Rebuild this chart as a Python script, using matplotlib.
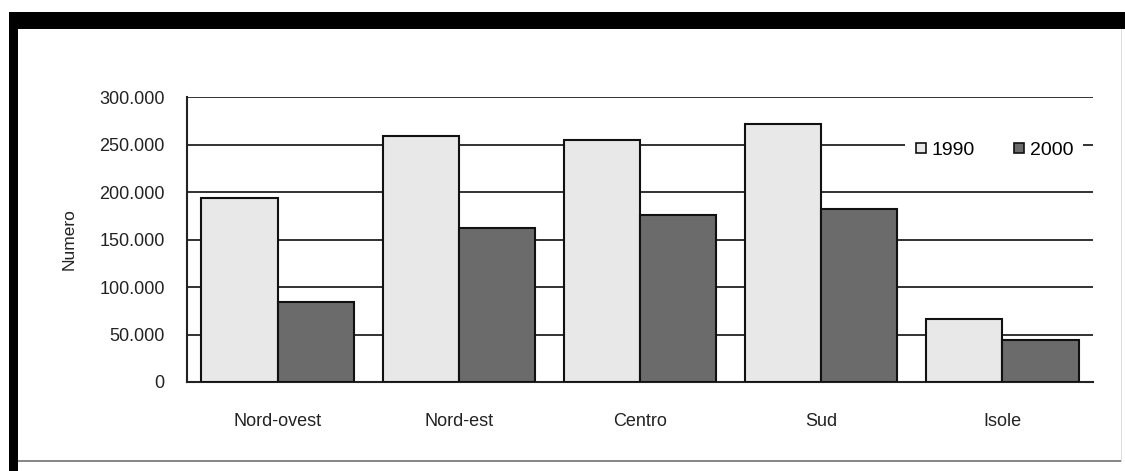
import matplotlib
matplotlib.use("Agg")
import matplotlib.pyplot as plt
import numpy as np
from matplotlib.lines import Line2D
from matplotlib.patches import Rectangle

categories = ["Nord-ovest", "Nord-est", "Centro", "Sud", "Isole"]
series_names = ["1990", "2000"]
values_1990 = [194000, 259000, 255000, 272000, 66000]
values_2000 = [84000, 162000, 176000, 182000, 44000]
ytick_values = [0, 50000, 100000, 150000, 200000, 250000, 300000]
ytick_labels = ["0", "50.000", "100.000", "150.000", "200.000", "250.000", "300.000"]
ylabel = "Numero"

FONT = ["Liberation Sans", "DejaVu Sans"]
plt.rcParams["font.family"] = FONT

W, H = 1125, 471
fig = plt.figure(figsize=(W / 100, H / 100), dpi=100)
fig.patch.set_facecolor("white")

# frame decorations (figure pixel coords)
def px_rect(x0, y0, x1, y1, **kw):
    fig.patches.append(Rectangle((x0 / W, 1 - y1 / H), (x1 - x0) / W, (y1 - y0) / H,
                                 transform=fig.transFigure, **kw))

px_rect(9, 12, 1125, 29, facecolor="black", edgecolor="none")
px_rect(9, 12, 18, 471, facecolor="black", edgecolor="none")
px_rect(18, 460, 1122, 462, facecolor="#888888", edgecolor="none")
px_rect(1121, 29, 1122, 462, facecolor="#dddddd", edgecolor="none")

left, right, top, bottom = 187, 1093, 97, 382
ax = fig.add_axes([left / W, 1 - bottom / H, (right - left) / W, (bottom - top) / H])

x = np.arange(len(categories))
bw = 0.42
ax.bar(x - bw / 2, values_1990, width=bw, color="#e8e8e8", edgecolor="#111111",
       linewidth=1.5, zorder=3, label=series_names[0])
ax.bar(x + bw / 2, values_2000, width=bw, color="#6b6b6b", edgecolor="#111111",
       linewidth=1.5, zorder=3, label=series_names[1])

for v in ytick_values[1:]:
    ax.axhline(v, color="#222222", linewidth=1.3, zorder=1)

ax.set_xlim(-0.5, len(categories) - 0.5)
ax.set_ylim(0, 300000)
ax.set_yticks(ytick_values)
ax.set_yticklabels(ytick_labels)
ax.set_xticks(x)
ax.set_xticklabels(categories)
ax.tick_params(axis="y", length=0, pad=16, labelsize=13, colors="#222222")
ax.tick_params(axis="x", length=0, pad=22, labelsize=13, colors="#222222")
for s in ["top", "right"]:
    ax.spines[s].set_visible(False)
ax.spines["left"].set_linewidth(1.5)
ax.spines["bottom"].set_linewidth(1.5)
ax.spines["left"].set_color("#222222")
ax.spines["bottom"].set_color("#222222")
ax.set_ylabel(ylabel, fontsize=12.5, color="#222222", labelpad=16)

handles = [
    Line2D([], [], marker="s", linestyle="none", markersize=7,
           markerfacecolor="#e8e8e8", markeredgecolor="#111111", markeredgewidth=1.2),
    Line2D([], [], marker="s", linestyle="none", markersize=7,
           markerfacecolor="#6b6b6b", markeredgecolor="#111111", markeredgewidth=1.2),
]
leg = ax.legend(handles, series_names, loc="center", bbox_to_anchor=(0.8905, 0.815),
                ncol=2, frameon=True, fancybox=False, framealpha=1, facecolor="white",
                edgecolor="none", fontsize=14, handlelength=0.7, handletextpad=0.2,
                columnspacing=1.9, borderpad=0.5, borderaxespad=0)
leg.set_zorder(5)

fig.savefig("out.png", dpi=100, facecolor="white")
